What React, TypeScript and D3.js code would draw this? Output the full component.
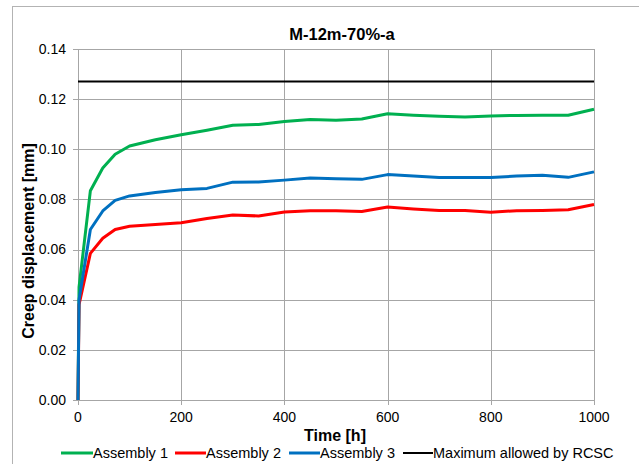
import React from 'react';
import { scaleLinear, line } from 'd3';

const hours = [0, 2, 24, 48, 72, 100, 150, 200, 250, 300, 350, 400, 450, 500, 550, 600, 650, 700, 750, 800, 850, 900, 950, 1000];
const assembly1 = [0, 0.045, 0.0835, 0.0925, 0.098, 0.1013, 0.1038, 0.1058, 0.1076, 0.1096, 0.1099, 0.1111, 0.1119, 0.1116, 0.1121, 0.1142, 0.1136, 0.1132, 0.1129, 0.1133, 0.1135, 0.1136, 0.1136, 0.116];
const assembly2 = [0, 0.038, 0.0585, 0.0645, 0.068, 0.0693, 0.07, 0.0707, 0.0724, 0.0738, 0.0734, 0.075, 0.0755, 0.0755, 0.0752, 0.077, 0.0762, 0.0756, 0.0756, 0.0749, 0.0755, 0.0756, 0.0759, 0.078];
const assembly3 = [0, 0.04, 0.068, 0.0754, 0.0796, 0.0814, 0.0828, 0.0839, 0.0844, 0.0869, 0.087, 0.0877, 0.0885, 0.0882, 0.088, 0.0899, 0.0893, 0.0887, 0.0887, 0.0887, 0.0893, 0.0896, 0.0888, 0.091];
const maxHours = [0, 1000];
const maxAllowed = [0.127, 0.127];
const xTicks = [0, 200, 400, 600, 800, 1000];
const yTicks = [0, 0.02, 0.04, 0.06, 0.08, 0.1, 0.12, 0.14];

const series = [
  { name: 'Assembly 1', x: hours, y: assembly1, color: '#00b050', width: 3 },
  { name: 'Assembly 2', x: hours, y: assembly2, color: '#ff0000', width: 3 },
  { name: 'Assembly 3', x: hours, y: assembly3, color: '#0070c0', width: 3 },
  { name: 'Maximum allowed by RCSC', x: maxHours, y: maxAllowed, color: '#000000', width: 2 },
];

const font = "Arial, 'Liberation Sans', sans-serif";

const App = () => {
  const x = scaleLinear().domain([0, 1000]).range([78, 594]);
  const y = scaleLinear().domain([0, 0.14]).range([400, 49]);

  // legend item positions (line start, text start)
  const legend = [
    { lx: 61, tx: 93 },
    { lx: 175, tx: 206 },
    { lx: 289, tx: 320 },
    { lx: 403, tx: 433 },
  ];

  return (
    <svg width={639} height={464} style={{ position: 'absolute', left: 0, top: 0, fontFamily: font }}>
      <rect x={0} y={0} width={639} height={464} fill="#fff" />
      <rect x={12.5} y={6.5} width={640} height={470} fill="none" stroke="#b3b3b3" />

      <text x={342} y={40} textAnchor="middle" fontSize={16.5} fontWeight="bold">M-12m-70%-a</text>

      {yTicks.map((t) => (
        <g key={'y' + t}>
          <line x1={73} x2={594} y1={Math.round(y(t)) + 0.5} y2={Math.round(y(t)) + 0.5} stroke="#a6a6a6" />
          <text x={66} y={y(t)} dy="0.35em" textAnchor="end" fontSize={14}>{t.toFixed(2)}</text>
        </g>
      ))}
      {xTicks.map((t) => (
        <g key={'x' + t}>
          <line x1={Math.round(x(t)) + 0.5} x2={Math.round(x(t)) + 0.5} y1={49} y2={405} stroke="#a6a6a6" />
          <text x={x(t)} y={422} textAnchor="middle" fontSize={14}>{t}</text>
        </g>
      ))}

      {series.map((s) => {
        const d = line<number>()
          .x((_, i) => x(s.x[i]))
          .y((v) => y(v))(s.y);
        return <path key={s.name} d={d || ''} fill="none" stroke={s.color} strokeWidth={s.width} strokeLinejoin="round" />;
      })}

      <text x={28} y={241} transform="rotate(-90 28 241)" dy="0.35em" textAnchor="middle" fontSize={16} fontWeight="bold">Creep displacement [mm]</text>
      <text x={335} y={441} textAnchor="middle" fontSize={16} fontWeight="bold">Time [h]</text>

      {series.map((s, i) => (
        <g key={'lg' + s.name}>
          <line x1={legend[i].lx} x2={legend[i].tx} y1={453} y2={453} stroke={s.color} strokeWidth={s.width} />
          <text x={legend[i].tx} y={458} fontSize={14.5}>{s.name}</text>
        </g>
      ))}
    </svg>
  );
};

export default App;
